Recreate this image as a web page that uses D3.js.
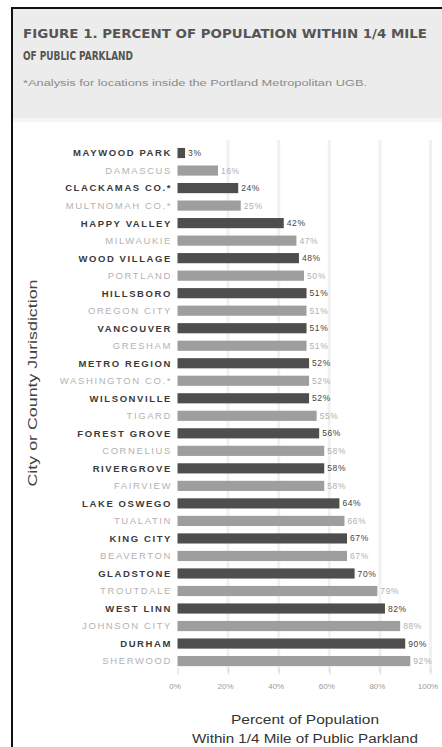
<!DOCTYPE html>
<html><head><meta charset="utf-8">
<script src="https://cdn.jsdelivr.net/npm/d3@7"></script>
<style>
html,body{margin:0;padding:0;background:#fff;}
svg{display:block;}
</style></head>
<body>
<script>
const categories = ["MAYWOOD PARK","DAMASCUS","CLACKAMAS CO.*","MULTNOMAH CO.*","HAPPY VALLEY","MILWAUKIE","WOOD VILLAGE","PORTLAND","HILLSBORO","OREGON CITY","VANCOUVER","GRESHAM","METRO REGION","WASHINGTON CO.*","WILSONVILLE","TIGARD","FOREST GROVE","CORNELIUS","RIVERGROVE","FAIRVIEW","LAKE OSWEGO","TUALATIN","KING CITY","BEAVERTON","GLADSTONE","TROUTDALE","WEST LINN","JOHNSON CITY","DURHAM","SHERWOOD"];
const values = [3,16,24,25,42,47,48,50,51,51,51,51,52,52,52,55,56,58,58,58,64,66,67,67,70,79,82,88,90,92];
const tickValues = [0,20,40,60,80,100];
const titleLines = ["FIGURE  1.  PERCENT OF POPULATION WITHIN 1/4 MILE","OF PUBLIC PARKLAND"];
const subtitle = "*Analysis for locations inside the Portland Metropolitan UGB.";
const yTitle = "City or County Jurisdiction";
const xTitleLines = ["Percent of Population","Within 1/4 Mile of Public Parkland"];

const W = 442, H = 747;
const narrow = "'Liberation Sans Narrow','DejaVu Sans Condensed','Arial Narrow',sans-serif";
const sans = "'Liberation Sans',Arial,sans-serif";

const svg = d3.select("body").append("svg").attr("width", W).attr("height", H);

// header
svg.append("rect").attr("x",13).attr("y",9).attr("width",W-13).attr("height",109).attr("fill","#ececec");
svg.append("rect").attr("x",13).attr("y",118).attr("width",W-13).attr("height",4).attr("fill","#f5f5f5");
// borders
svg.append("line").attr("x1",11).attr("x2",W).attr("y1",8).attr("y2",8).attr("stroke","#111").attr("stroke-width",2);
svg.append("line").attr("x1",12).attr("x2",12).attr("y1",7).attr("y2",H).attr("stroke","#111").attr("stroke-width",2);

// title
const titleWidths = [404, 110];
titleLines.forEach((t,i)=>{
  svg.append("text").attr("x",23).attr("y",37.5 + i*22.5)
    .attr("font-family",narrow).attr("font-weight","bold").attr("font-size",12.5)
    .attr("fill","#555").attr("textLength",titleWidths[i]).attr("lengthAdjust","spacingAndGlyphs")
    .text(t);
});
svg.append("text").attr("x",23).attr("y",86)
  .attr("font-family",sans).attr("font-size",8.5).attr("fill","#8a8a8a")
  .attr("textLength",344).attr("lengthAdjust","spacingAndGlyphs").text(subtitle);

// scales
const x = d3.scaleLinear().domain([0,100]).range([177.5,430.5]);
const y = d3.scaleBand().domain(categories).range([140.6,673.5]).paddingInner(0.42).paddingOuter(0.42);

// gridlines
svg.append("g").selectAll("line").data(tickValues.slice(1)).join("line")
  .attr("x1",d=>x(d)).attr("x2",d=>x(d)).attr("y1",140).attr("y2",672)
  .attr("stroke","#f1f1f1").attr("stroke-width",3);

// bars
const dark = (i)=> i % 2 === 0;
svg.append("g").selectAll("rect").data(values).join("rect")
  .attr("x",x(0)).attr("y",(d,i)=>y(categories[i]))
  .attr("width",d=>x(d)-x(0)).attr("height",y.bandwidth())
  .attr("fill",(d,i)=>dark(i)?"#4e4e4e":"#9e9e9e");

// category labels
svg.append("g").selectAll("text").data(categories).join("text")
  .attr("x",172).attr("y",d=>y(d)+y.bandwidth()/2).attr("dy","0.36em")
  .attr("text-anchor","end").attr("font-family",sans).attr("font-size",9.5)
  .attr("letter-spacing",1.6)
  .attr("font-weight",(d,i)=>dark(i)?"bold":"normal")
  .attr("fill",(d,i)=>dark(i)?"#3a3a3a":"#b3b3b3")
  .text(d=>d);

// value labels
svg.append("g").selectAll("text").data(values).join("text")
  .attr("x",d=>x(d)+3).attr("y",(d,i)=>y(categories[i])+y.bandwidth()/2).attr("dy","0.36em")
  .attr("font-family",sans).attr("font-size",8.5).attr("letter-spacing",0.6)
  .attr("fill",(d,i)=>dark(i)?"#444":"#b0b0b0")
  .text(d=>d+"%");

// x axis
const xAxis = d3.axisBottom(x).tickValues(tickValues).tickFormat(d=>d+"%").tickSize(6).tickPadding(9);
const gx = svg.append("g").attr("transform","translate(0,668)").call(xAxis);
gx.select(".domain").remove();
gx.selectAll(".tick line").attr("stroke","#d8d8d8");
gx.selectAll(".tick text").attr("font-family",sans).attr("font-size",8).attr("fill","#9a9a9a").attr("dx","-3");

// axis titles
const xtW = [148, 226];
xTitleLines.forEach((t,i)=>{
  svg.append("text").attr("x",305).attr("y",724 + i*19).attr("text-anchor","middle")
    .attr("font-family",sans).attr("font-size",12).attr("fill","#333")
    .attr("textLength",xtW[i]).attr("lengthAdjust","spacingAndGlyphs").text(t);
});
svg.append("text").attr("transform","translate(37,383) rotate(-90)").attr("text-anchor","middle")
  .attr("font-family",sans).attr("font-size",13).attr("fill","#444")
  .attr("textLength",207).attr("lengthAdjust","spacingAndGlyphs").text(yTitle);
</script>
</body></html>
